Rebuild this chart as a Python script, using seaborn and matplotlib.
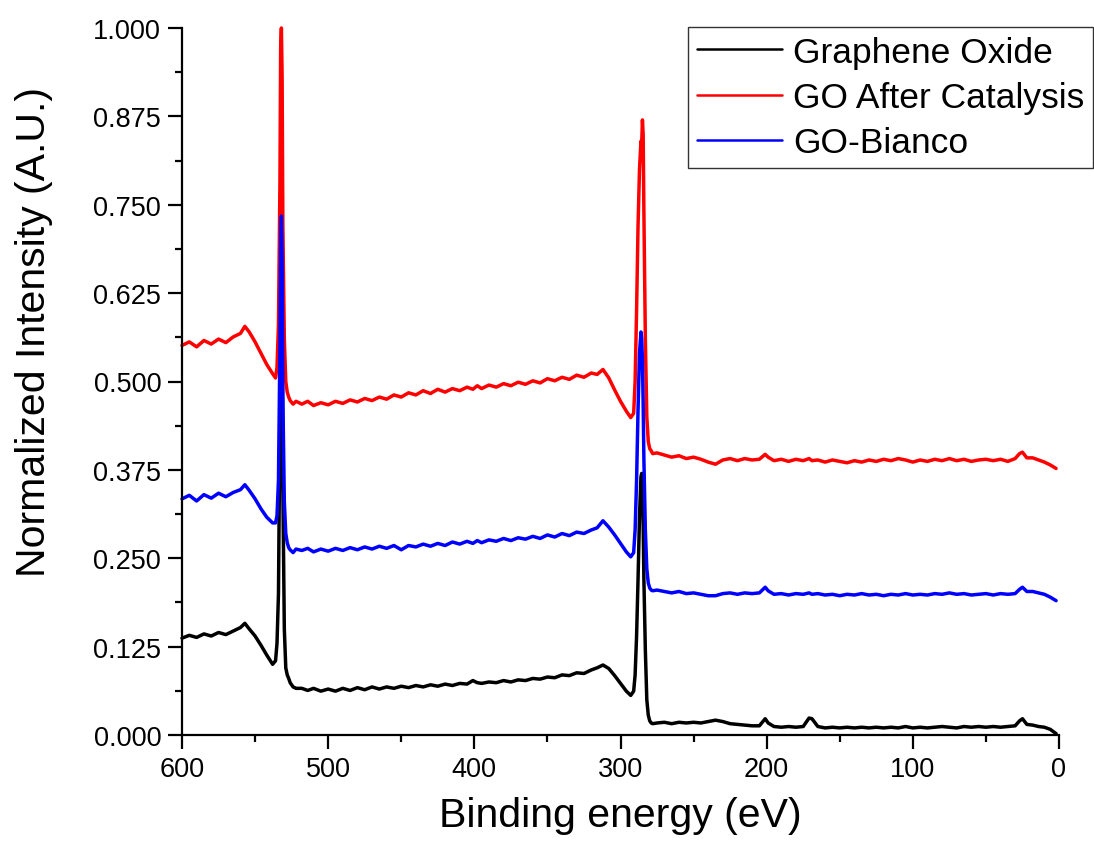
import numpy as np
import pandas as pd
import matplotlib
matplotlib.use("Agg")
import matplotlib.pyplot as plt
import seaborn as sns
from matplotlib.ticker import MultipleLocator, FormatStrFormatter

# binding energy grid (eV), split into regions
energy_a = [600, 595, 590, 585, 580, 575, 570, 565, 560, 557, 554, 550, 546, 542, 538]
energy_b = [536, 535, 534, 533, 532.5, 532, 531.5, 531, 530, 529, 528, 527, 526, 524, 522]
energy_c = [518, 514, 510, 505, 500, 495, 490, 485, 480, 475, 470, 465, 460, 455, 450,
            445, 440, 435, 430, 425, 420, 415, 410, 405, 401, 398, 395, 390, 385, 380,
            375, 370, 365, 360, 355, 350, 345, 340, 335, 330, 325, 320, 316, 312, 308,
            304, 300, 296, 293]
energy_d = [291, 290, 289, 288, 287, 286, 285.5, 285, 284.5, 284, 283, 282, 281, 280, 279, 278]
energy_e = [275, 270, 265, 260, 255, 250, 245, 240, 235, 230, 225, 220, 215, 210, 205,
            201, 199, 195, 190, 185, 180, 175, 171, 169, 165, 160, 155, 150, 145, 140,
            135, 130, 125, 120, 115, 110, 105, 100, 95, 90, 85, 80, 75, 70, 65,
            60, 55, 50, 45, 40, 35, 30, 27, 25, 22, 18, 14, 10, 6, 2]

# Graphene Oxide
go_a = [0.137, 0.141, 0.138, 0.143, 0.140, 0.145, 0.142, 0.147, 0.152, 0.158, 0.150, 0.140, 0.127, 0.113, 0.100]
go_b = [0.105, 0.13, 0.20, 0.45, 0.65, 0.72, 0.60, 0.35, 0.15, 0.095, 0.085, 0.080, 0.074, 0.068, 0.066]
go_c = [0.066, 0.063, 0.066, 0.062, 0.065, 0.062, 0.066, 0.063, 0.067, 0.064, 0.068, 0.065, 0.068, 0.066, 0.069,
        0.067, 0.070, 0.068, 0.071, 0.069, 0.072, 0.070, 0.073, 0.072, 0.077, 0.074, 0.073, 0.075, 0.074, 0.077,
        0.075, 0.078, 0.077, 0.080, 0.079, 0.082, 0.081, 0.085, 0.084, 0.088, 0.087, 0.092, 0.095, 0.099, 0.094,
        0.084, 0.073, 0.062, 0.056]
go_d = [0.062, 0.085, 0.14, 0.22, 0.31, 0.365, 0.37, 0.35, 0.30, 0.22, 0.12, 0.05, 0.028, 0.020, 0.017, 0.016]
go_e = [0.017, 0.018, 0.016, 0.018, 0.017, 0.018, 0.017, 0.019, 0.021, 0.019, 0.016, 0.015, 0.014, 0.013, 0.013,
        0.023, 0.017, 0.012, 0.011, 0.012, 0.011, 0.012, 0.024, 0.023, 0.012, 0.010, 0.011, 0.010, 0.011, 0.010,
        0.011, 0.010, 0.011, 0.010, 0.011, 0.010, 0.012, 0.010, 0.011, 0.010, 0.011, 0.012, 0.011, 0.010, 0.012,
        0.011, 0.012, 0.011, 0.012, 0.011, 0.012, 0.013, 0.020, 0.023, 0.015, 0.014, 0.012, 0.011, 0.008, 0.002]

# GO After Catalysis
cat_a = [0.551, 0.556, 0.549, 0.558, 0.553, 0.560, 0.555, 0.563, 0.568, 0.578, 0.570, 0.556, 0.540, 0.524, 0.511]
cat_b = [0.505, 0.52, 0.58, 0.78, 0.973, 1.0, 0.93, 0.72, 0.56, 0.50, 0.485, 0.478, 0.473, 0.468, 0.472]
cat_c = [0.468, 0.472, 0.466, 0.470, 0.467, 0.472, 0.469, 0.474, 0.471, 0.476, 0.473, 0.478, 0.475, 0.481, 0.478,
         0.484, 0.481, 0.487, 0.483, 0.489, 0.485, 0.490, 0.487, 0.492, 0.489, 0.494, 0.490, 0.495, 0.492, 0.497,
         0.494, 0.499, 0.496, 0.501, 0.498, 0.504, 0.501, 0.506, 0.503, 0.509, 0.506, 0.512, 0.510, 0.517, 0.505,
         0.488, 0.472, 0.458, 0.449]
cat_d = [0.455, 0.50, 0.60, 0.72, 0.80, 0.84, 0.835, 0.870, 0.85, 0.74, 0.56, 0.45, 0.415, 0.405, 0.402, 0.398]
cat_e = [0.399, 0.396, 0.393, 0.395, 0.391, 0.393, 0.390, 0.386, 0.383, 0.389, 0.391, 0.388, 0.391, 0.389, 0.390,
         0.397, 0.393, 0.388, 0.390, 0.387, 0.390, 0.388, 0.391, 0.388, 0.389, 0.386, 0.389, 0.387, 0.385, 0.388,
         0.386, 0.389, 0.387, 0.390, 0.388, 0.391, 0.389, 0.386, 0.389, 0.387, 0.390, 0.388, 0.391, 0.388, 0.390,
         0.387, 0.389, 0.390, 0.388, 0.390, 0.387, 0.391, 0.398, 0.400, 0.392, 0.392, 0.389, 0.386, 0.382, 0.377]

# GO-Bianco
bia_a = [0.334, 0.339, 0.331, 0.340, 0.335, 0.342, 0.337, 0.343, 0.347, 0.354, 0.346, 0.334, 0.320, 0.308, 0.300]
bia_b = [0.300, 0.31, 0.36, 0.55, 0.70, 0.734, 0.66, 0.48, 0.33, 0.285, 0.272, 0.265, 0.262, 0.258, 0.263]
bia_c = [0.261, 0.264, 0.259, 0.263, 0.260, 0.264, 0.261, 0.265, 0.262, 0.266, 0.263, 0.267, 0.264, 0.268, 0.262,
         0.268, 0.266, 0.270, 0.267, 0.271, 0.268, 0.273, 0.270, 0.274, 0.271, 0.275, 0.272, 0.276, 0.274, 0.278,
         0.275, 0.279, 0.277, 0.281, 0.278, 0.283, 0.280, 0.285, 0.282, 0.287, 0.285, 0.290, 0.293, 0.303, 0.294,
         0.283, 0.271, 0.259, 0.252]
bia_d = [0.258, 0.29, 0.36, 0.46, 0.54, 0.570, 0.56, 0.53, 0.47, 0.39, 0.29, 0.235, 0.215, 0.208, 0.205, 0.204]
bia_e = [0.205, 0.203, 0.201, 0.203, 0.200, 0.201, 0.199, 0.197, 0.197, 0.200, 0.201, 0.199, 0.201, 0.200, 0.201,
         0.209, 0.204, 0.199, 0.200, 0.198, 0.200, 0.199, 0.201, 0.199, 0.200, 0.198, 0.199, 0.197, 0.199, 0.198,
         0.200, 0.198, 0.199, 0.197, 0.199, 0.198, 0.200, 0.198, 0.199, 0.198, 0.200, 0.199, 0.201, 0.199, 0.200,
         0.198, 0.199, 0.200, 0.198, 0.200, 0.199, 0.200, 0.206, 0.209, 0.203, 0.203, 0.201, 0.199, 0.195, 0.190]

labels = ["Graphene Oxide", "GO After Catalysis", "GO-Bianco"]
colors = ["#000000", "#FF0000", "#0000FF"]


def build_frame():
    energy = energy_a + energy_b + energy_c + energy_d + energy_e
    series = [
        go_a + go_b + go_c + go_d + go_e,
        cat_a + cat_b + cat_c + cat_d + cat_e,
        bia_a + bia_b + bia_c + bia_d + bia_e,
    ]
    frames = []
    for name, vals in zip(labels, series):
        assert len(vals) == len(energy), name
        frames.append(pd.DataFrame({"energy": energy, "intensity": vals, "sample": name}))
    return pd.concat(frames, ignore_index=True)


def main():
    df = build_frame()

    sns.set_style("ticks")
    plt.rcParams["font.family"] = ["Liberation Sans", "DejaVu Sans"]
    # plain black text and axes like the original
    for key in ["text.color", "axes.labelcolor", "xtick.color", "ytick.color", "axes.edgecolor"]:
        plt.rcParams[key] = "black"

    fig = plt.figure(figsize=(10.94, 8.45), dpi=100)
    ax = fig.add_axes([182 / 1094, 1 - 736 / 845, 877 / 1094, 707 / 845])

    sns.lineplot(
        data=df, x="energy", y="intensity", hue="sample",
        palette=dict(zip(labels, colors)), hue_order=labels,
        sort=False, estimator=None, linewidth=2.5, ax=ax,
    )

    ax.set_xlim(600, 0)
    ax.set_ylim(0, 1)
    ax.xaxis.set_major_locator(MultipleLocator(100))
    ax.xaxis.set_minor_locator(MultipleLocator(50))
    ax.yaxis.set_major_locator(MultipleLocator(0.125))
    ax.yaxis.set_minor_locator(MultipleLocator(0.0625))
    ax.yaxis.set_major_formatter(FormatStrFormatter("%.3f"))

    for line in ax.lines:
        line.set_clip_on(False)

    sns.despine(ax=ax)
    for side in ["left", "bottom"]:
        ax.spines[side].set_linewidth(1.6)
    ax.tick_params(which="major", length=10, width=1.6, labelsize=19.5, pad=5)
    ax.tick_params(which="minor", length=5, width=1.6)

    ax.set_xlabel("Binding energy (eV)", fontsize=29.5, labelpad=10)
    ax.set_ylabel("Normalized Intensity (A.U.)", fontsize=29.5)
    # the y title sits a bit above the middle of the axis in the original
    ax.yaxis.set_label_coords(-0.147, 0.571)

    handles, labs = ax.get_legend_handles_labels()
    leg = ax.legend(
        handles, labs, loc="upper right",
        bbox_to_anchor=(1093 / 1094, 1 - 28 / 845), bbox_transform=fig.transFigure,
        borderaxespad=0, fontsize=25.5, frameon=True, fancybox=False,
        edgecolor="#333333", framealpha=1, handlelength=2.4, handletextpad=0.33,
        labelspacing=0.35, borderpad=0.24,
    )
    leg.get_frame().set_linewidth(1.0)
    for ln in leg.get_lines():
        ln.set_linewidth(1.8)

    fig.savefig("out.png", dpi=100)


if __name__ == "__main__":
    main()
